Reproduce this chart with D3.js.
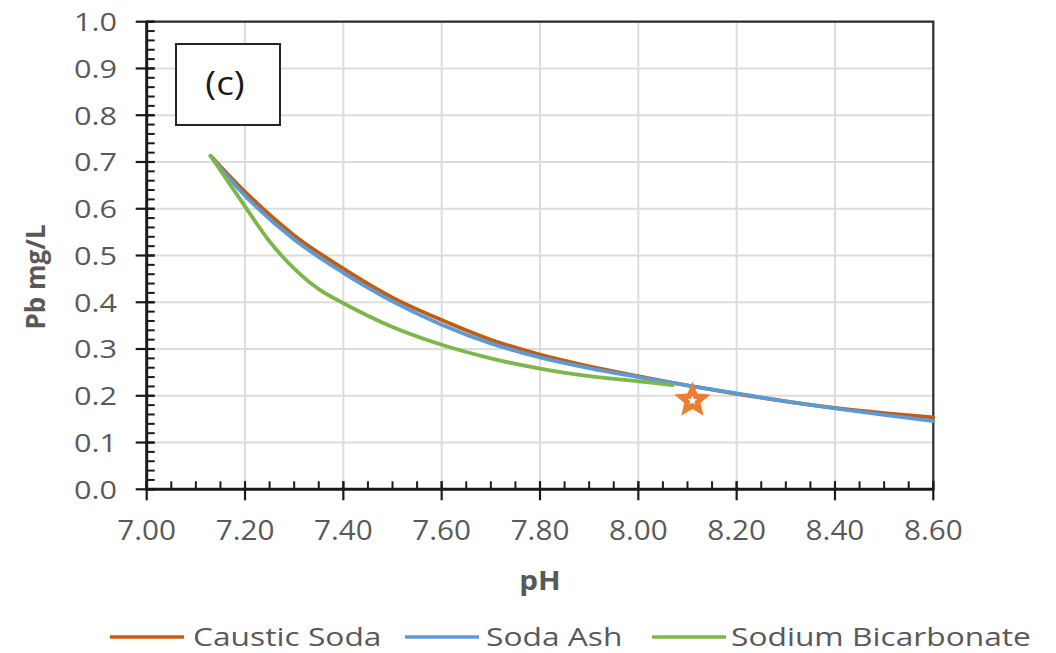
<!DOCTYPE html>
<html>
<head>
<meta charset="utf-8">
<script src="https://cdn.jsdelivr.net/npm/d3@7"></script>
<style>
  html, body { margin: 0; padding: 0; background: #ffffff; }
  svg { display: block; }
  text { font-family: "Open Sans", "DejaVu Sans", sans-serif; }
</style>
</head>
<body>
<svg id="chart" width="1056" height="653"></svg>
<script>
// Dissolved lead vs. pH for three alkalinity adjustment chemicals
const causticPH   = [7.13, 7.20, 7.30, 7.40, 7.50, 7.60, 7.70, 7.80, 7.90, 8.00, 8.10, 8.20, 8.30, 8.40, 8.50, 8.60];
const causticPb   = [0.713, 0.636, 0.543, 0.472, 0.410, 0.362, 0.320, 0.288, 0.263, 0.242, 0.222, 0.204, 0.188, 0.174, 0.163, 0.154];
const sodaAshPH   = [7.13, 7.20, 7.30, 7.40, 7.50, 7.60, 7.70, 7.80, 7.90, 8.00, 8.10, 8.20, 8.30, 8.40, 8.50, 8.60];
const sodaAshPb   = [0.713, 0.628, 0.534, 0.463, 0.402, 0.352, 0.312, 0.282, 0.259, 0.240, 0.222, 0.205, 0.188, 0.173, 0.159, 0.146];
const bicarbPH    = [7.13, 7.20, 7.25, 7.30, 7.35, 7.40, 7.50, 7.60, 7.70, 7.80, 7.90, 8.00, 8.07];
const bicarbPb    = [0.713, 0.605, 0.530, 0.472, 0.428, 0.398, 0.347, 0.309, 0.280, 0.258, 0.242, 0.231, 0.223];
const seriesNames = ["Caustic Soda", "Soda Ash", "Sodium Bicarbonate"];
const seriesColors = ["#C55A11", "#5B9BD5", "#7DB74B"];
const starPoint   = [8.11, 0.19];
const xTickLabels = ["7.00", "7.20", "7.40", "7.60", "7.80", "8.00", "8.20", "8.40", "8.60"];
const yTickLabels = ["0.0", "0.1", "0.2", "0.3", "0.4", "0.5", "0.6", "0.7", "0.8", "0.9", "1.0"];

const svg = d3.select("#chart");
const x = d3.scaleLinear().domain([7.0, 8.6]).range([146.7, 933.3]);
const y = d3.scaleLinear().domain([0, 1]).range([489.3, 21.7]);

const xMajor = xTickLabels.map(Number);
const yMajor = yTickLabels.map(Number);
const xMinor = d3.range(0, 33).map(i => 7.0 + i * 0.05);
const yMinor = d3.range(0, 51).map(i => i * 0.02);

// wide text: anchor at (tx, ty) and stretch horizontally
const place = (tx, ty, sx) => `translate(${tx},${ty}) scale(${sx},1)`;

// gridlines
const grid = svg.append("g").attr("stroke", "#DCDCDC").attr("stroke-width", 2);
grid.selectAll(".gx").data(xMajor.slice(1, -1)).join("line")
  .attr("x1", d => x(d)).attr("x2", d => x(d))
  .attr("y1", y(0)).attr("y2", y(1));
grid.selectAll(".gy").data(yMajor.slice(1, -1)).join("line")
  .attr("x1", x(7.0)).attr("x2", x(8.6))
  .attr("y1", d => y(d)).attr("y2", d => y(d));

// plot frame (top and right)
svg.append("path")
  .attr("d", `M${x(7.0)},${y(1)}H${x(8.6)}V${y(0)}`)
  .attr("fill", "none").attr("stroke", "#2b2b2b").attr("stroke-width", 2.2);

// series lines
const line = d3.line().x(d => x(d[0])).y(d => y(d[1])).curve(d3.curveCatmullRom.alpha(0.5));
const series = [
  d3.zip(causticPH, causticPb),
  d3.zip(sodaAshPH, sodaAshPb),
  d3.zip(bicarbPH, bicarbPb)
];
svg.append("g").selectAll("path").data(series).join("path")
  .attr("d", line)
  .attr("fill", "none")
  .attr("stroke", (d, i) => seriesColors[i])
  .attr("stroke-width", 3.8)
  .attr("stroke-linecap", "round")
  .attr("stroke-linejoin", "round");

// axes
const axes = svg.append("g").attr("stroke", "#1a1a1a");
axes.append("line").attr("x1", x(7.0)).attr("x2", x(7.0)).attr("y1", y(1) - 1).attr("y2", y(0) + 1).attr("stroke-width", 3);
axes.append("line").attr("x1", x(7.0) - 1).attr("x2", x(8.6) + 1).attr("y1", y(0)).attr("y2", y(0)).attr("stroke-width", 3);
axes.selectAll(".ymin").data(yMinor).join("line")
  .attr("x1", x(7.0)).attr("x2", x(7.0) + 8)
  .attr("y1", d => y(d)).attr("y2", d => y(d)).attr("stroke-width", 2);
axes.selectAll(".ymaj").data(yMajor).join("line")
  .attr("x1", x(7.0) - 11).attr("x2", x(7.0) + 8)
  .attr("y1", d => y(d)).attr("y2", d => y(d)).attr("stroke-width", 2.2);
axes.selectAll(".xmin").data(xMinor).join("line")
  .attr("x1", d => x(d)).attr("x2", d => x(d))
  .attr("y1", y(0)).attr("y2", y(0) - 8).attr("stroke-width", 2);
axes.selectAll(".xmaj").data(xMajor).join("line")
  .attr("x1", d => x(d)).attr("x2", d => x(d))
  .attr("y1", y(0) - 8).attr("y2", y(0) + 11).attr("stroke-width", 2.2);

// tick labels
svg.append("g").selectAll("text").data(yTickLabels).join("text")
  .attr("transform", d => place(117, y(+d), 1.18))
  .attr("dy", "0.36em")
  .attr("text-anchor", "end")
  .attr("font-size", 26).attr("fill", "#595959")
  .text(d => d);
svg.append("g").selectAll("text").data(xTickLabels).join("text")
  .attr("transform", d => place(x(+d), 540, 1.1))
  .attr("text-anchor", "middle")
  .attr("font-size", 27).attr("fill", "#595959")
  .text(d => d);

// axis titles
svg.append("text")
  .attr("transform", place(540, 590, 1.14))
  .attr("text-anchor", "middle")
  .attr("font-size", 26).attr("font-weight", "bold").attr("fill", "#595959")
  .text("pH");
svg.append("text")
  .attr("transform", "translate(45,277) rotate(-90)")
  .attr("text-anchor", "middle")
  .attr("font-size", 26).attr("font-weight", "bold").attr("fill", "#595959")
  .text("Pb mg/L");

// panel label
svg.append("rect")
  .attr("x", 176).attr("y", 44).attr("width", 104).attr("height", 81)
  .attr("fill", "#ffffff").attr("stroke", "#262626").attr("stroke-width", 2);
svg.append("text")
  .attr("transform", place(225, 95, 1.15))
  .attr("text-anchor", "middle")
  .attr("font-size", 32).attr("fill", "#1a1a1a")
  .text("(c)");

// highlighted operating point: five-pointed star with a small white star inside
const starPath = (rOuter, rInner) => d3.lineRadial().curve(d3.curveLinearClosed)(
  d3.range(10).map(i => [i * Math.PI / 5, i % 2 === 0 ? rOuter : rInner])
);
const sp = svg.append("g").attr("transform", `translate(${x(starPoint[0])},${y(starPoint[1])})`);
sp.append("path").attr("d", starPath(19, 8.5)).attr("fill", "#ED7D31");
sp.append("path").attr("d", starPath(5, 2.2)).attr("fill", "#ffffff");

// legend
const legendLineX = [110, 405, 652];
const legendTextX = [193, 486, 731];
const lg = svg.append("g");
seriesNames.forEach((name, i) => {
  lg.append("line")
    .attr("x1", legendLineX[i]).attr("x2", legendLineX[i] + 74)
    .attr("y1", 637).attr("y2", 637)
    .attr("stroke", seriesColors[i]).attr("stroke-width", 3.6);
  lg.append("text")
    .attr("transform", place(legendTextX[i], 646, 1.22))
    .attr("font-size", 26).attr("fill", "#595959")
    .text(name);
});
</script>
</body>
</html>
